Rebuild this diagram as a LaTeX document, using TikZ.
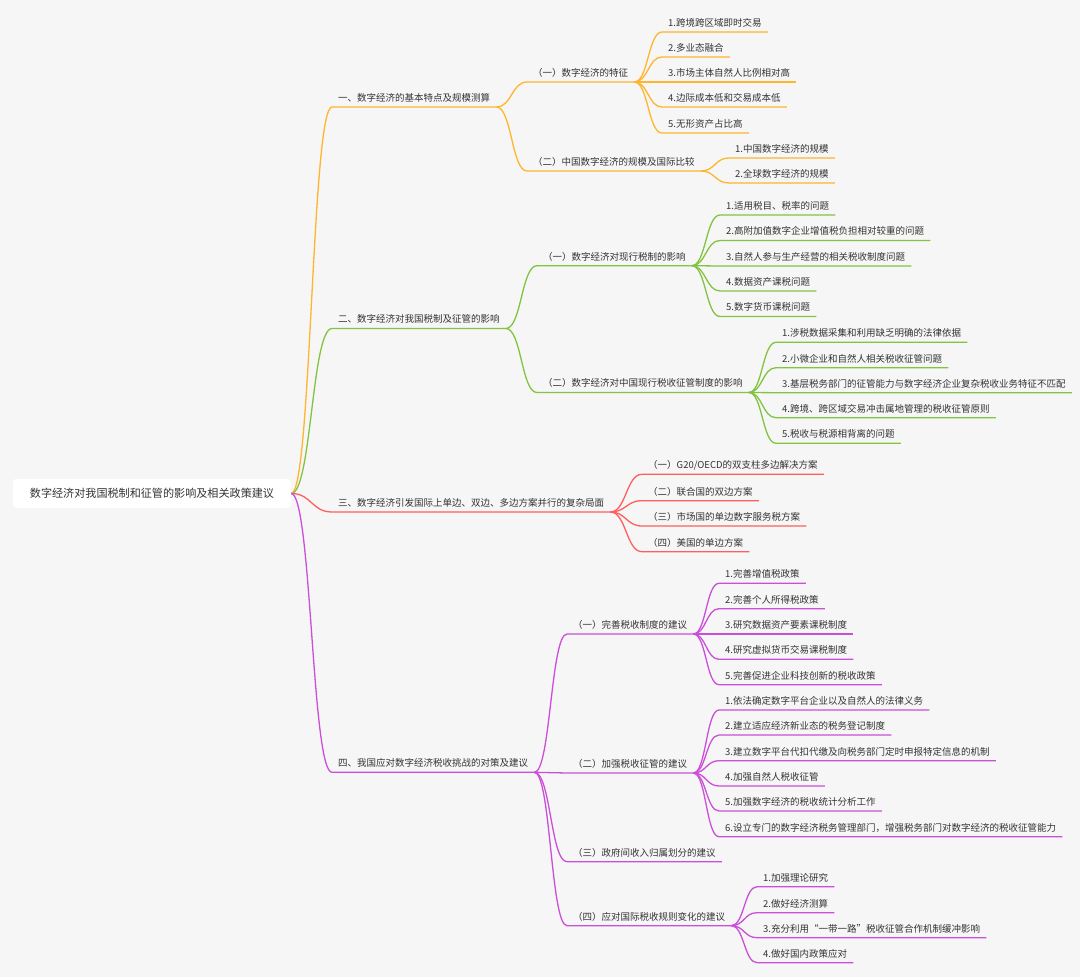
\documentclass[tikz,border=0pt]{standalone}
\usepackage{fontspec}
\setmainfont{Noto Sans CJK SC}
\usetikzlibrary{calc}
\definecolor{bg}{HTML}{F6F6F6}
\definecolor{txt}{HTML}{333333}
\definecolor{cO}{HTML}{FFB52E}
\definecolor{cG}{HTML}{82C341}
\definecolor{cR}{HTML}{FF5E5E}
\definecolor{cP}{HTML}{CB4FD8}
\begin{document}
\begin{tikzpicture}[x=1pt,y=-1pt,
  lbl/.style={anchor=south west, inner xsep=6pt, inner ysep=0pt, text height=8pt, text depth=5.4pt, font=\fontsize{9.5}{11}\selectfont, text=txt},
  bz/.style={to path={let \p1=(\tikztostart), \p2=(\tikztotarget), \p3=($(\p1)!0.5!(\p2)$) in .. controls (\x3,\y1) and (\x3,\y2) .. (\tikztotarget)}},
  lO/.style={draw=cO, line width=1.3pt},
  lG/.style={draw=cG, line width=1.3pt},
  lR/.style={draw=cR, line width=1.3pt},
  lP/.style={draw=cP, line width=1.3pt}]
\fill[bg] (0,0) rectangle (1080,977);
\useasboundingbox (0,0) rectangle (1080,977);
% root
\node[fill=white, rounded corners=3pt, minimum width=278pt, minimum height=29pt, inner sep=0pt, font=\fontsize{11.1}{13}\selectfont, text=txt] (root) at (152,493.5) {数字经济对我国税制和征管的影响及相关政策建议};
% branch 1
\node[lbl] (a) at (332,107) {一、数字经济的基本特点及规模测算};
\node[lbl] (a1) at (527,82) {（一）数字经济的特征};
\node[lbl] (a2) at (527,171) {（二）中国数字经济的规模及国际比较};
\node[lbl] (a11) at (662,32) {1.跨境跨区域即时交易};
\node[lbl] (a12) at (662,57) {2.多业态融合};
\node[lbl] (a13) at (662,82) {3.市场主体自然人比例相对高};
\node[lbl] (a14) at (662,107) {4.边际成本低和交易成本低};
\node[lbl] (a15) at (662,133) {5.无形资产占比高};
\node[lbl] (a21) at (729,158) {1.中国数字经济的规模};
\node[lbl] (a22) at (729,183) {2.全球数字经济的规模};
% branch 2
\node[lbl] (b) at (332,328.5) {二、数字经济对我国税制及征管的影响};
\node[lbl] (b1) at (537,265.7) {（一）数字经济对现行税制的影响};
\node[lbl] (b2) at (537,392.5) {（二）数字经济对中国现行税收征管制度的影响};
\node[lbl] (b11) at (720,215) {1.适用税目、税率的问题};
\node[lbl] (b12) at (720,240.5) {2.高附加值数字企业增值税负担相对较重的问题};
\node[lbl] (b13) at (720,266) {3.自然人参与生产经营的相关税收制度问题};
\node[lbl] (b14) at (720,291) {4.数据资产课税问题};
\node[lbl] (b15) at (720,316.5) {5.数字货币课税问题};
\node[lbl] (b21) at (776,342.3) {1.涉税数据采集和利用缺乏明确的法律依据};
\node[lbl] (b22) at (776,367.7) {2.小微企业和自然人相关税收征管问题};
\node[lbl] (b23) at (776,392.7) {3.基层税务部门的征管能力与数字经济企业复杂税收业务特征不匹配};
\node[lbl] (b24) at (776,417.7) {4.跨境、跨区域交易冲击属地管理的税收征管原则};
\node[lbl] (b25) at (776,443.3) {5.税收与税源相背离的问题};
% branch 3
\node[lbl] (c) at (332,512) {三、数字经济引发国际上单边、双边、多边方案并行的复杂局面};
\node[lbl] (c1) at (642,474.3) {（一）G20/OECD的双支柱多边解决方案};
\node[lbl] (c2) at (642,500.7) {（二）联合国的双边方案};
\node[lbl] (c3) at (642,526) {（三）市场国的单边数字服务税方案};
\node[lbl] (c4) at (642,551.7) {（四）美国的单边方案};
% branch 4
\node[lbl] (d) at (332,772.3) {四、我国应对数字经济税收挑战的对策及建议};
\node[lbl] (d1) at (567,634) {（一）完善税收制度的建议};
\node[lbl] (d2) at (567,773) {（二）加强税收征管的建议};
\node[lbl] (d3) at (567,861.7) {（三）政府间收入归属划分的建议};
\node[lbl] (d4) at (567,925.7) {（四）应对国际税收规则变化的建议};
\node[lbl] (d11) at (719,583.3) {1.完善增值税政策};
\node[lbl] (d12) at (719,608.7) {2.完善个人所得税政策};
\node[lbl] (d13) at (719,634) {3.研究数据资产要素课税制度};
\node[lbl] (d14) at (719,659.3) {4.研究虚拟货币交易课税制度};
\node[lbl] (d15) at (719,684.7) {5.完善促进企业科技创新的税收政策};
\node[lbl] (d21) at (719,710) {1.依法确定数字平台企业以及自然人的法律义务};
\node[lbl] (d22) at (719,735) {2.建立适应经济新业态的税务登记制度};
\node[lbl] (d23) at (719,760.7) {3.建立数字平台代扣代缴及向税务部门定时申报特定信息的机制};
\node[lbl] (d24) at (719,786) {4.加强自然人税收征管};
\node[lbl] (d25) at (719,811) {5.加强数字经济的税收统计分析工作};
\node[lbl] (d26) at (719,836.7) {6.设立专门的数字经济税务管理部门，增强税务部门对数字经济的税收征管能力};
\node[lbl] (d41) at (757,886.7) {1.加强理论研究};
\node[lbl] (d42) at (757,912.7) {2.做好经济测算};
\node[lbl] (d43) at (757,937.7) {3.充分利用“一带一路”税收征管合作机制缓冲影响};
\node[lbl] (d44) at (757,962.7) {4.做好国内政策应对};
% connectors
\draw[lO] (root.east) to[bz] (a.south west) -- (a.south east);
\foreach \k in {a1,a2} \draw[lO] (a.south east) to[bz] (\k.south west) -- (\k.south east);
\foreach \k in {a11,a12,a13,a14,a15} \draw[lO] (a1.south east) to[bz] (\k.south west) -- (\k.south east);
\foreach \k in {a21,a22} \draw[lO] (a2.south east) to[bz] (\k.south west) -- (\k.south east);
\draw[lG] (root.east) to[bz] (b.south west) -- (b.south east);
\foreach \k in {b1,b2} \draw[lG] (b.south east) to[bz] (\k.south west) -- (\k.south east);
\foreach \k in {b11,b12,b13,b14,b15} \draw[lG] (b1.south east) to[bz] (\k.south west) -- (\k.south east);
\foreach \k in {b21,b22,b23,b24,b25} \draw[lG] (b2.south east) to[bz] (\k.south west) -- (\k.south east);
\draw[lR] (root.east) to[bz] (c.south west) -- (c.south east);
\foreach \k in {c1,c2,c3,c4} \draw[lR] (c.south east) to[bz] (\k.south west) -- (\k.south east);
\draw[lP] (root.east) to[bz] (d.south west) -- (d.south east);
\foreach \k in {d1,d2,d3,d4} \draw[lP] (d.south east) to[bz] (\k.south west) -- (\k.south east);
\foreach \k in {d11,d12,d13,d14,d15} \draw[lP] (d1.south east) to[bz] (\k.south west) -- (\k.south east);
\foreach \k in {d21,d22,d23,d24,d25,d26} \draw[lP] (d2.south east) to[bz] (\k.south west) -- (\k.south east);
\foreach \k in {d41,d42,d43,d44} \draw[lP] (d4.south east) to[bz] (\k.south west) -- (\k.south east);
\end{tikzpicture}
\end{document}
